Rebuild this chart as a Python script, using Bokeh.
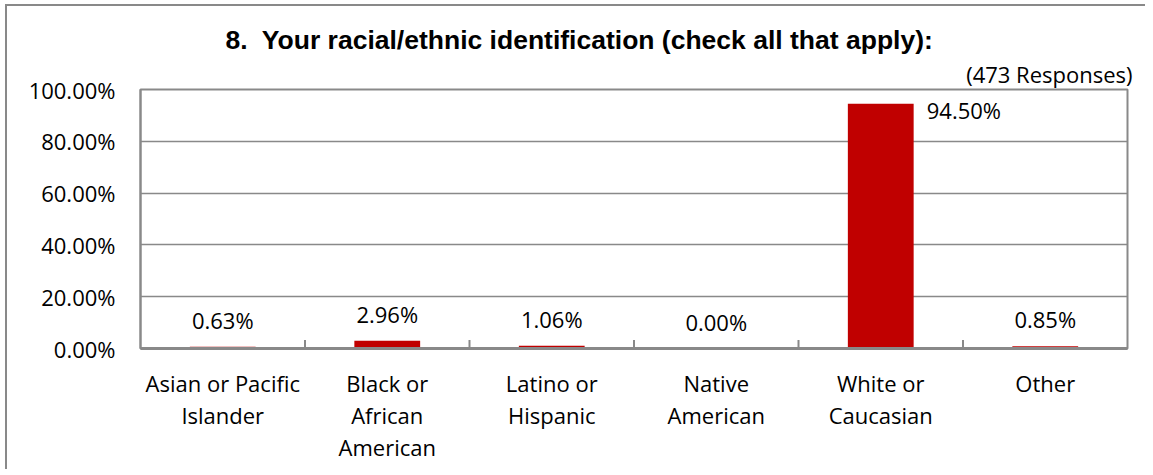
from bokeh.plotting import figure
from bokeh.models import (ColumnDataSource, Range1d, FixedTicker,
                          PrintfTickFormatter, Title, LinearAxis)
from bokeh.core.properties import value
from bokeh.embed import file_html
from bokeh.resources import INLINE

# ---- data ----
categories = ["Asian or Pacific Islander", "Black or African American",
              "Latino or Hispanic", "Native American", "White or Caucasian", "Other"]
label_lines = [["Asian or Pacific", "Islander"],
               ["Black or", "African", "American"],
               ["Latino or", "Hispanic"],
               ["Native", "American"],
               ["White or", "Caucasian"],
               ["Other"]]
values = [0.63, 2.96, 1.06, 0.00, 94.50, 0.85]
y_ticks = [0, 20, 40, 60, 80, 100]
title_text = "8.\u00a0 Your racial/ethnic identification (check all that apply):"
note_text = "(473 Responses)"

GRAY = "#898989"
RED = "#C00000"
FONT = "Open Sans"

n = len(categories)
centers = [i + 0.5 for i in range(n)]          # category slots on a linear scale
bounds = [float(i) for i in range(1, n)]        # category boundaries

p = figure(width=1140, height=465, x_range=Range1d(0, n),
           y_range=Range1d(0, 100), output_backend="svg", toolbar_location=None,
           min_border_left=133, min_border_right=20,
           min_border_top=83, min_border_bottom=123)
p.styles = {"box-shadow": f"-2px -2px 0px 0px {GRAY}",
            "margin-left": "7px", "margin-top": "6px"}
p.outline_line_color = GRAY
p.outline_line_width = 2
p.background_fill_color = "white"
p.border_fill_color = "white"

# grid
p.xgrid.grid_line_color = None
p.ygrid.ticker = FixedTicker(ticks=y_ticks)
p.ygrid.grid_line_color = GRAY
p.ygrid.grid_line_width = 1.5

# y axis
p.yaxis.ticker = FixedTicker(ticks=y_ticks)
p.yaxis.formatter = PrintfTickFormatter(format="%.2f%%")
p.yaxis.major_tick_line_color = None
p.yaxis.minor_tick_line_color = None
p.yaxis.major_tick_out = 0
p.yaxis.major_tick_in = 0
p.yaxis.major_label_standoff = 25
p.yaxis.axis_line_color = GRAY
p.yaxis.axis_line_width = 2
p.yaxis.major_label_text_font = FONT
p.yaxis.major_label_text_font_size = "22px"
p.yaxis.major_label_text_color = "black"

# x axes: one per label line, stacked below
def line_of(i):
    return {c: (ls[i] if i < len(ls) else "") for c, ls in zip(centers, label_lines)}

n_lines = max(len(ls) for ls in label_lines)
for i in range(1, n_lines):
    p.add_layout(LinearAxis(), "below")
for i, ax in enumerate(p.xaxis):
    ax.ticker = FixedTicker(ticks=centers)
    ax.major_label_overrides = line_of(i)
    ax.major_tick_line_color = None
    ax.minor_tick_line_color = None
    ax.major_tick_out = 0
    ax.major_tick_in = 0
    ax.major_label_standoff = -1
    ax.axis_line_color = None
    ax.major_label_text_font = FONT
    ax.major_label_text_font_size = "22px"
    ax.major_label_text_color = "black"
p.xaxis[0].major_label_standoff = 19
p.xaxis[0].axis_line_color = GRAY
p.xaxis[0].axis_line_width = 3

# bars
src = ColumnDataSource(dict(x=centers, val=values))
p.vbar(x="x", top="val", width=0.4, source=src, color=RED, line_color=None)

# category separator ticks (inside, upward)
sep = ColumnDataSource(dict(x=bounds, y0=[0] * len(bounds), y1=[3.3] * len(bounds)))
p.segment(x0="x", y0="y0", x1="x", y1="y1", source=sep, line_color=GRAY, line_width=2)

# value labels
ymax = p.y_range.end
normal = [(x, v) for x, v in zip(centers, values) if v < 0.9 * ymax]
high = [(x, v) for x, v in zip(centers, values) if v >= 0.9 * ymax]
if normal:
    s1 = ColumnDataSource(dict(x=[x for x, v in normal], val=[v for x, v in normal],
                               txt=[f"{v:.2f}%" for x, v in normal]))
    p.text(x="x", y="val", text="txt", source=s1, text_align="center",
           text_baseline="alphabetic", y_offset=-27, text_font=value(FONT),
           text_font_size="22px", text_color="black")
if high:
    s2 = ColumnDataSource(dict(x=[x for x, v in high], val=[v for x, v in high],
                               txt=[f"{v:.2f}%" for x, v in high]))
    p.text(x="x", y="val", text="txt", source=s2, text_align="left",
           text_baseline="alphabetic", x_offset=46, y_offset=6, text_font=value(FONT),
           text_font_size="22px", text_color="black")

# title and note (above the frame)
p.title.visible = False
p.add_layout(Title(text=note_text, align="right", text_font=FONT,
                   text_font_size="22px", text_font_style="normal",
                   text_color="black", standoff=2, offset=-5), "above")
p.add_layout(Title(text=title_text, align="left", text_font="Liberation Sans",
                   text_font_size="26.5px", text_font_style="bold",
                   text_color="black", standoff=2, offset=85), "above")

open("out.html", "w").write(file_html(p, INLINE))
